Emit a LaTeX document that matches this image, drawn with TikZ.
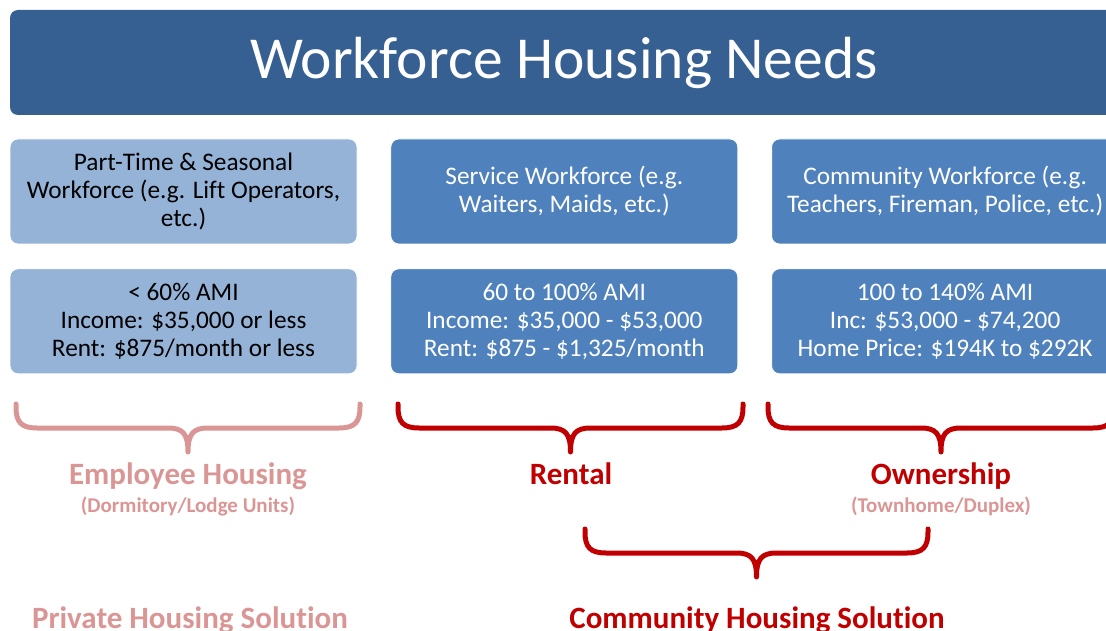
\documentclass[tikz,border=0pt]{standalone}
\usepackage{fontspec}
\setmainfont{Carlito}[Ligatures=NoCommon]
\usetikzlibrary{positioning}
\definecolor{titleblue}{RGB}{55,96,146}
\definecolor{lightblue}{RGB}{149,179,215}
\definecolor{midblue}{RGB}{79,129,189}
\definecolor{pinkred}{RGB}{217,150,148}
\definecolor{darkred}{RGB}{192,0,0}

% curly bracket: colour, left x, right x, top y
\newcommand{\housebrace}[4]{%
  \draw[bracket, #1] (#2,#4) -- (#2,#4+3)
    .. controls (#2,#4+18) and (#2+5,#4+24) .. (#2+21,#4+24)
    -- ({(#2+#3)/2-20},#4+24)
    .. controls ({(#2+#3)/2-5},#4+24) and ({(#2+#3)/2},#4+30) .. ({(#2+#3)/2},#4+48)
    .. controls ({(#2+#3)/2},#4+30) and ({(#2+#3)/2+5},#4+24) .. ({(#2+#3)/2+20},#4+24)
    -- (#3-21,#4+24)
    .. controls (#3-5,#4+24) and (#3,#4+18) .. (#3,#4+3) -- (#3,#4);}

\begin{document}
\begin{tikzpicture}[x=1pt, y=-1pt,
  box/.style={rectangle, rounded corners=8pt, minimum width=347pt, minimum height=105pt,
    align=center, inner sep=0pt, draw=white, line width=0.8pt, font=\fontsize{25.3}{28}\selectfont},
  lightbox/.style={box, fill=lightblue, text=black},
  darkbox/.style={box, fill=midblue, text=white},
  bracket/.style={line width=5pt, line cap=round, line join=round},
  biglabel/.style={anchor=base, font=\fontsize{31}{36}\selectfont\bfseries},
  smalllabel/.style={anchor=base, font=\fontsize{21}{25}\selectfont\bfseries, text=pinkred},
  node distance=24pt and 33pt]

\useasboundingbox (0,0) rectangle (1106,631);

% title bar
\node[rectangle, rounded corners=8pt, fill=titleblue, minimum width=1108pt, minimum height=105pt,
  text=white, font=\fontsize{59.5}{70}\selectfont] (title) at (564,62.5) {Workforce Housing Needs};

% workforce groups
\node[lightbox] (parttime) at (183.5,191.5) {Part-Time \& Seasonal\\Workforce (e.g. Lift Operators,\\etc.)};
\node[darkbox, right=of parttime] (service) {Service Workforce (e.g.\\Waiters, Maids, etc.)};
\node[darkbox, right=of service] (community) {Community Workforce (e.g.\\Teachers, Fireman, Police, etc.)};

% income bands
\node[lightbox, below=of parttime] (amilow) {< 60\% AMI\\Income: \$35,000 or less\\Rent: \$875/month or less};
\node[darkbox, below=of service] (amimid) {60 to 100\% AMI\\Income: \$35,000 - \$53,000\\Rent: \$875 - \$1,325/month};
\node[darkbox, below=of community] (amihigh) {100 to 140\% AMI\\Inc: \$53,000 - \$74,200\\Home Price: \$194K to \$292K};

% braces
\housebrace{pinkred}{16}{360}{404}
\housebrace{darkred}{398}{743}{404}
\housebrace{darkred}{768}{1114}{404}
\housebrace{darkred}{585}{928}{529}

% housing types
\node[biglabel, text=pinkred] (emphousing) at (188,484) {Employee Housing};
\node[smalllabel] (dorm) at (188,512) {(Dormitory/Lodge Units)};
\node[biglabel, text=darkred] (rental) at (571,484) {Rental};
\node[biglabel, text=darkred] (ownership) at (941,484) {Ownership};
\node[smalllabel] (townhome) at (941,512) {(Townhome/Duplex)};

% solutions
\node[biglabel, text=pinkred] (privsol) at (190,628) {Private Housing Solution};
\node[biglabel, text=darkred] (commsol) at (757,628) {Community Housing Solution};
\end{tikzpicture}
\end{document}
